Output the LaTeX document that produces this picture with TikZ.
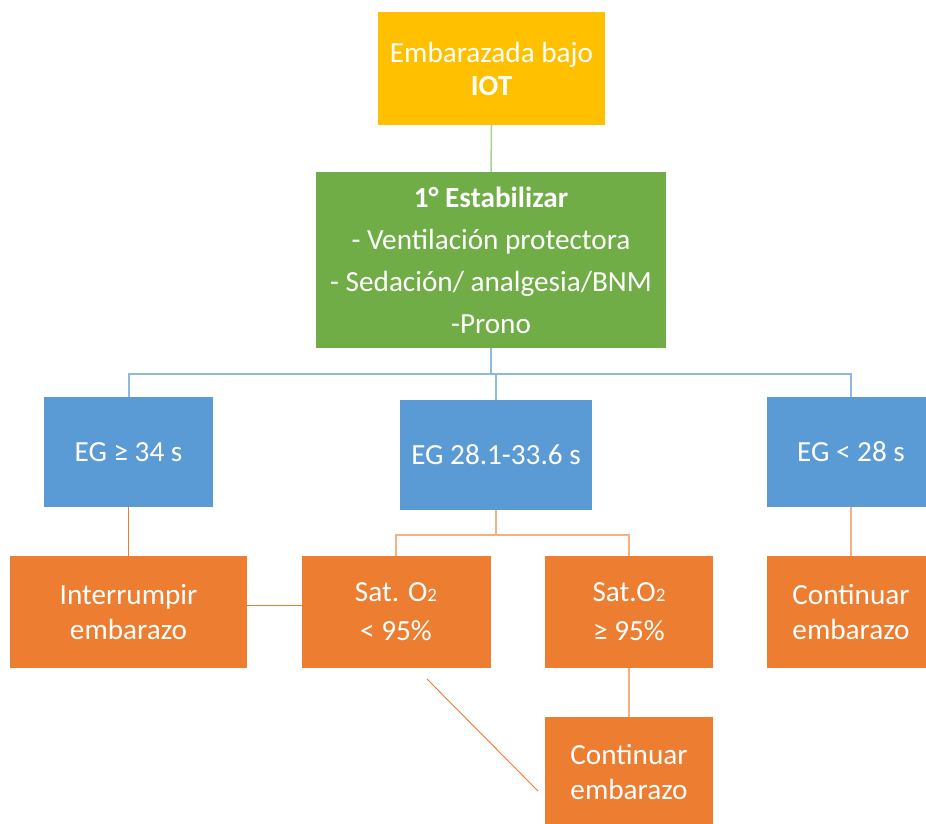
\documentclass[tikz,border=0pt]{standalone}
\usepackage{fontspec}
\setmainfont{Carlito}
\definecolor{cyel}{HTML}{FFC000}
\definecolor{cgrn}{HTML}{70AD47}
\definecolor{cblu}{HTML}{5B9BD5}
\definecolor{corg}{HTML}{ED7D31}
\definecolor{lgrn}{HTML}{A9D18E}
\definecolor{lblu}{HTML}{8DB8E4}
\definecolor{lorg}{HTML}{F4B183}
\newcommand{\sub}[1]{{\fontsize{19}{19}\selectfont #1}}
\begin{document}
\begin{tikzpicture}[x=1pt,y=-1pt,
  box/.style={inner sep=0pt,outer sep=0pt,text=white,align=center,
    font=\fontsize{29.2}{35}\selectfont},
  ybox/.style={box,fill=cyel},
  gbox/.style={box,fill=cgrn},
  bbox/.style={box,fill=cblu},
  obox/.style={box,fill=corg},
  gline/.style={draw=lgrn,line width=1.5pt},
  bline/.style={draw=lblu,line width=2pt},
  oline/.style={draw=lorg,line width=1.8pt},
  odark/.style={draw=corg,line width=1.8pt},
  othin/.style={draw=corg,line width=0.9pt}]
\clip (0,0) rectangle (926,823);
\fill[white] (0,0) rectangle (926,823);
\node[ybox,minimum width=227pt,minimum height=113pt] (top) at (491.5,68.5)
  {Embarazada bajo\\[-2pt]\textbf{IOT}};
\node[gbox,minimum width=350pt,minimum height=176pt,
  font=\fontsize{29.2}{42}\selectfont] (green) at (491,260)
  {\textbf{1° Estabilizar}\\- Ventilación protectora\\- Sedación/ analgesia/BNM\\-Prono};
\node[bbox,minimum width=169pt,minimum height=110pt] (bL) at (128.5,452) {EG ≥ 34 s};
\node[bbox,minimum width=192pt,minimum height=110pt] (bM) at (496,455) {EG 28.1-33.6 s};
\node[bbox,minimum width=168pt,minimum height=110pt] (bR) at (851,452) {EG < 28 s};
\node[obox,minimum width=237pt,minimum height=112pt] (oL) at (128.5,612) {Interrumpir\\embarazo};
\node[obox,minimum width=189pt,minimum height=112pt,
  font=\fontsize{29.2}{39}\selectfont] (oM1) at (396,612) {Sat. O\sub{2}\\< 95\%};
\node[obox,minimum width=168pt,minimum height=112pt,
  font=\fontsize{29.2}{39}\selectfont] (oM2) at (629,612) {Sat.O\sub{2}\\≥ 95\%};
\node[obox,minimum width=168pt,minimum height=112pt] (oR) at (851,612) {Continuar\\embarazo};
\node[obox,minimum width=168pt,minimum height=110pt] (oB) at (629,772) {Continuar\\embarazo};
% connectors
\draw[gline] (top.south) -- (green.north);
\coordinate (bh) at (491,374);
\draw[bline] (green.south -| bh) -- (bh);
\draw[bline] (bL.north) -- (bL.north |- bh) -- (bR.north |- bh) -- (bR.north);
\draw[bline] (bM.north) -- (bM.north |- bh);
\coordinate (oh) at (496,535);
\draw[odark] (bL.south) -- (oL.north);
\draw[oline] (bM.south) -- (oh);
\draw[oline] (oM1.north) -- (oM1.north |- oh) -- (oM2.north |- oh) -- (oM2.north);
\draw[oline] (bR.south) -- (oR.north);
\draw[othin] ([yshift=7pt]oL.east) -- ([yshift=7pt]oM1.west);
\draw[oline] (oM2.south) -- (oB.north);
\coordinate (d1) at (427,679);
\coordinate (d2) at (538,791);
\draw[othin] (d1) -- (d2);
\end{tikzpicture}
\end{document}
